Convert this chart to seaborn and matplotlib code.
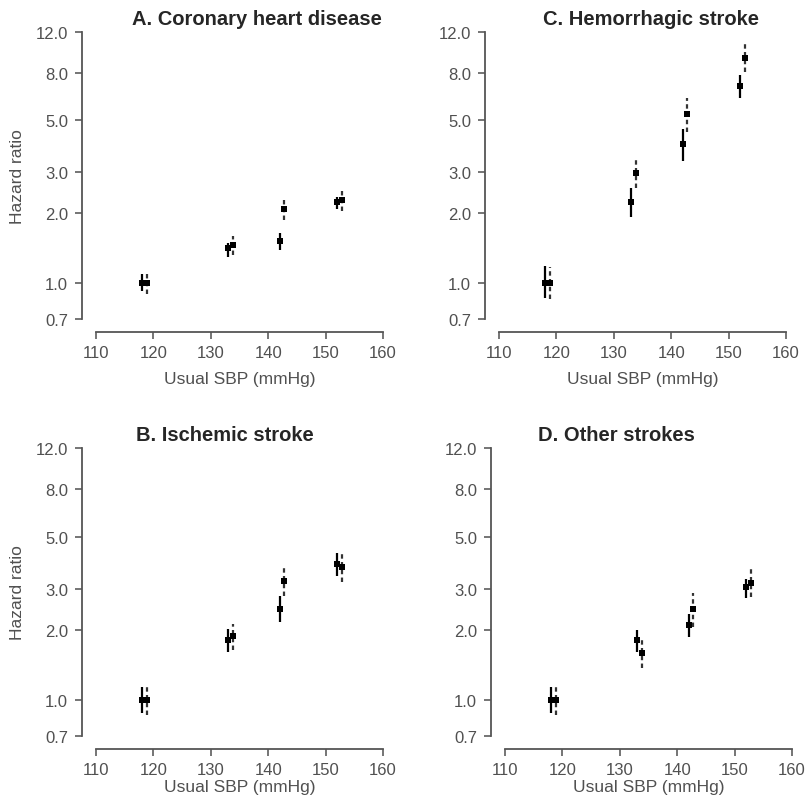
import numpy as np
import pandas as pd
import matplotlib
matplotlib.use("Agg")
import matplotlib.pyplot as plt
import seaborn as sns

## Usual SBP for the two series in each group (solid / dashed)
sbp_solid = [118, 133, 142, 152]
sbp_dashed = [118.8, 133.8, 142.8, 152.8]

## A. Coronary heart disease
chd_solid_hr = [1.0, 1.41, 1.51, 2.22]
chd_solid_lo = [0.92, 1.29, 1.38, 2.08]
chd_solid_hi = [1.09, 1.48, 1.64, 2.35]
chd_dashed_hr = [1.0, 1.46, 2.08, 2.27]
chd_dashed_lo = [0.90, 1.32, 1.87, 2.03]
chd_dashed_hi = [1.12, 1.60, 2.31, 2.51]

## C. Hemorrhagic stroke
hem_solid_hr = [1.0, 2.22, 3.95, 7.03]
hem_solid_lo = [0.86, 1.93, 3.35, 6.25]
hem_solid_hi = [1.18, 2.57, 4.60, 7.86]
hem_dashed_hr = [1.0, 2.96, 5.31, 9.29]
hem_dashed_lo = [0.85, 2.55, 4.46, 8.07]
hem_dashed_hi = [1.17, 3.37, 6.27, 10.65]

## B. Ischemic stroke
isc_solid_hr = [1.0, 1.80, 2.46, 3.81]
isc_solid_lo = [0.88, 1.60, 2.16, 3.40]
isc_solid_hi = [1.14, 2.01, 2.79, 4.25]
isc_dashed_hr = [1.0, 1.87, 3.24, 3.72]
isc_dashed_lo = [0.86, 1.64, 2.79, 3.20]
isc_dashed_hi = [1.14, 2.11, 3.75, 4.28]

## D. Other strokes
oth_solid_hr = [1.0, 1.80, 2.09, 3.03]
oth_solid_lo = [0.88, 1.60, 1.85, 2.72]
oth_solid_hi = [1.14, 1.99, 2.34, 3.29]
oth_dashed_hr = [1.0, 1.585, 2.45, 3.18]
oth_dashed_lo = [0.86, 1.37, 2.06, 2.77]
oth_dashed_hi = [1.14, 1.81, 2.86, 3.63]

titles = ["A. Coronary heart disease", "C. Hemorrhagic stroke",
          "B. Ischemic stroke", "D. Other strokes"]
yticks = [0.7, 1.0, 2.0, 3.0, 5.0, 8.0, 12.0]
ytick_labels = ["0.7", "1.0", "2.0", "3.0", "5.0", "8.0", "12.0"]
xticks = [110, 120, 130, 140, 150, 160]


def make_frame(panel, s_hr, s_lo, s_hi, d_hr, d_lo, d_hi):
    a = pd.DataFrame({"sbp": sbp_solid, "hr": s_hr, "lo": s_lo, "hi": s_hi})
    a["series"] = "solid"
    b = pd.DataFrame({"sbp": sbp_dashed, "hr": d_hr, "lo": d_lo, "hi": d_hi})
    b["series"] = "dashed"
    df = pd.concat([a, b], ignore_index=True)
    df["panel"] = panel
    return df


data = pd.concat([
    make_frame(titles[0], chd_solid_hr, chd_solid_lo, chd_solid_hi,
               chd_dashed_hr, chd_dashed_lo, chd_dashed_hi),
    make_frame(titles[1], hem_solid_hr, hem_solid_lo, hem_solid_hi,
               hem_dashed_hr, hem_dashed_lo, hem_dashed_hi),
    make_frame(titles[2], isc_solid_hr, isc_solid_lo, isc_solid_hi,
               isc_dashed_hr, isc_dashed_lo, isc_dashed_hi),
    make_frame(titles[3], oth_solid_hr, oth_solid_lo, oth_solid_hi,
               oth_dashed_hr, oth_dashed_lo, oth_dashed_hi),
], ignore_index=True)

sns.set_style("ticks")
plt.rcParams['font.family'] = ['Liberation Sans', 'DejaVu Sans']

fig = plt.figure(figsize=(8.11, 8.12), dpi=100)

# axes boxes measured in pixels: left, top, right, bottom
boxes = [(96, 33, 383, 320), (499, 33, 786, 320),
         (96, 449, 383, 737), (505, 449, 792, 737)]
title_x = [0.56, 0.53, 0.45, 0.39]
grey = "#505050"

for i, (title, box) in enumerate(zip(titles, boxes)):
    l, t, r, b = box
    ax = fig.add_axes([l / 811, 1 - b / 812, (r - l) / 811, (b - t) / 812])
    sub = data[data["panel"] == title]
    solid = sub[sub["series"] == "solid"]
    dashed = sub[sub["series"] == "dashed"]

    ax.vlines(solid["sbp"], solid["lo"], solid["hi"], color="black", lw=1.6)
    ax.vlines(dashed["sbp"], dashed["lo"], dashed["hi"], color="#333333",
              lw=1.6, linestyles=(0, (2.0, 1.5)))
    sns.scatterplot(data=sub, x="sbp", y="hr", marker="s", color="black",
                    s=24, linewidth=0, legend=False, ax=ax, zorder=3)

    ax.set_yscale("log")
    ax.set_ylim(0.7, 12)
    ax.set_xlim(110, 160)
    ax.set_yticks(yticks)
    ax.set_yticklabels(ytick_labels)
    ax.minorticks_off()
    ax.set_xticks(xticks)
    ax.tick_params(axis="both", colors=grey, labelsize=12, length=5,
                   width=1.1, pad=5)
    for sp in ["left", "bottom"]:
        ax.spines[sp].set_color("#555555")
        ax.spines[sp].set_linewidth(1.3)
    sns.despine(ax=ax, offset=dict(left=10, bottom=9))

    ax.set_title(title, fontsize=14.5, fontweight="bold", x=title_x[i],
                 pad=6)
    ax.set_xlabel("Usual SBP (mmHg)", fontsize=12.5, color=grey,
                  labelpad=8 if i < 2 else 1)
    if i in (0, 2):
        ax.set_ylabel("Hazard ratio", fontsize=12.5, color=grey, labelpad=8)
    else:
        ax.set_ylabel("")

fig.savefig("out.png", dpi=100)
